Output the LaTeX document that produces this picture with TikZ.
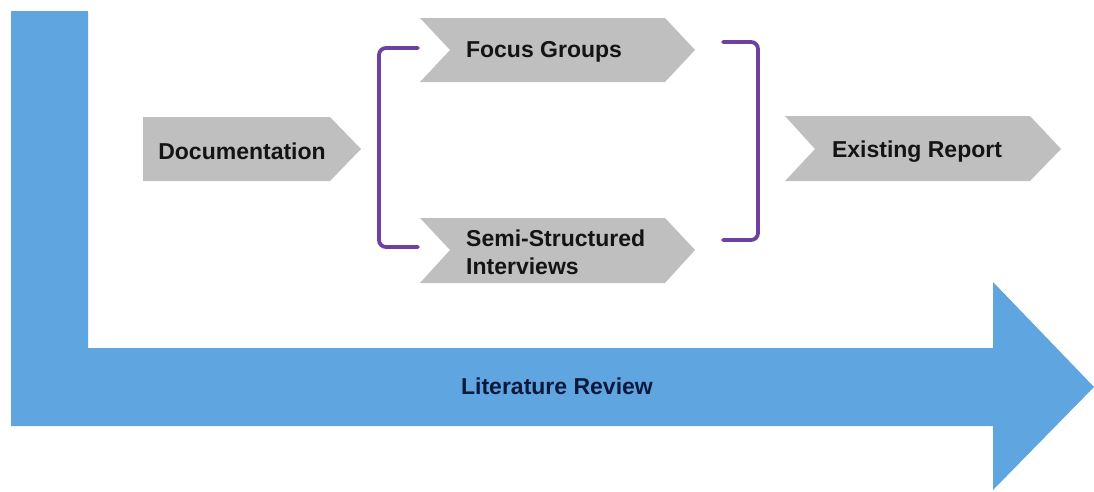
\documentclass[tikz,border=0pt]{standalone}
\usepackage{fontspec}
\setmainfont{Liberation Sans}
\definecolor{flowblue}{RGB}{95,165,223}
\definecolor{stepgray}{RGB}{191,191,191}
\definecolor{bracketpurple}{RGB}{112,64,160}
\definecolor{navytext}{RGB}{12,24,60}
\begin{document}
\begin{tikzpicture}[x=1pt,y=-1pt,
  label/.style={font=\fontsize{23}{26}\selectfont\bfseries, text=black!92, inner sep=0pt},
  chev/.style={fill=stepgray, draw=none},
  brk/.style={draw=bracketpurple, line width=3.8pt, rounded corners=7pt, line cap=round}]
\useasboundingbox (0,0) rectangle (1094,491);

% L-shaped arrow carrying the literature review
\fill[flowblue] (11,11) -- (88,11) -- (88,348) -- (993,348) -- (993,282)
  -- (1094,387) -- (993,490) -- (993,426) -- (11,426) -- cycle;
\node[label, text=navytext] (lit) at (557,386) {Literature Review};

% Documentation step (flat tail)
\fill[chev] (143,117) -- (330,117) -- (361,149) -- (330,181) -- (143,181) -- cycle;
\node[label] (doc) at (242,151) {Documentation};

% Focus groups step
\fill[chev] (420,18) -- (665,18) -- (695,50) -- (665,82) -- (420,82) -- (450,50) -- cycle;
\node[label] (focus) at (544,52) {Focus Groups};

% Semi-structured interviews step
\fill[chev] (420,218) -- (665,218) -- (695,250) -- (665,283) -- (420,283) -- (450,250) -- cycle;
\node[label, align=left, anchor=west, font=\fontsize{23}{28}\selectfont\bfseries] (semi) at (466,252) {Semi-Structured\\Interviews};

% Existing report step
\fill[chev] (785,116) -- (1030,116) -- (1061,149) -- (1030,181) -- (785,181) -- (815,149) -- cycle;
\node[label] (exist) at (917,152) {Existing Report};

% Brackets grouping the two parallel steps
\coordinate (lt) at (418,48);
\coordinate (lb) at (418,247);
\coordinate (rt) at (723,42);
\coordinate (rb) at (723,240);
\draw[brk] (lt) -- (379,48) -- (379,247) -- (lb);
\draw[brk] (rt) -- (758,42) -- (758,240) -- (rb);
\end{tikzpicture}
\end{document}
